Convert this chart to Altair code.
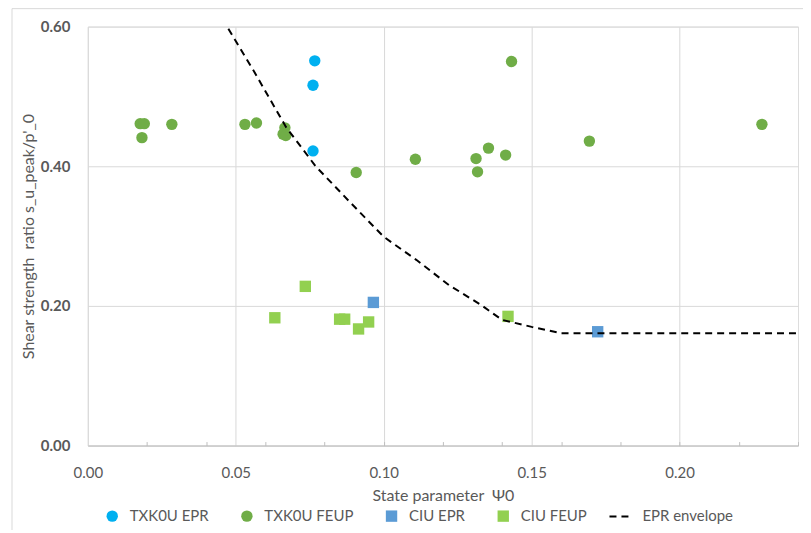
import altair as alt
import pandas as pd

# ---- data ----
txk_epr_x = [0.0767, 0.0761, 0.0761]
txk_epr_y = [0.551, 0.516, 0.422]

txk_feup_x = [0.0177, 0.0191, 0.0183, 0.0284, 0.0531, 0.0570, 0.0666, 0.0660, 0.0669,
              0.0907, 0.1107, 0.1312, 0.1317, 0.1354, 0.1412, 0.1432, 0.1695, 0.2278]
txk_feup_y = [0.461, 0.461, 0.441, 0.460, 0.460, 0.462, 0.455, 0.446, 0.444,
              0.391, 0.410, 0.411, 0.392, 0.426, 0.416, 0.550, 0.436, 0.460]

ciu_epr_x = [0.0965, 0.1723]
ciu_epr_y = [0.205, 0.163]

ciu_feup_x = [0.0632, 0.0735, 0.0851, 0.0868, 0.0915, 0.0949, 0.1420]
ciu_feup_y = [0.183, 0.228, 0.181, 0.181, 0.167, 0.177, 0.185]

env_x = [0.0475, 0.056, 0.067, 0.077, 0.0885, 0.100, 0.111, 0.122, 0.133, 0.140, 0.150, 0.160, 0.240]
env_y = [0.597, 0.537, 0.456, 0.400, 0.349, 0.299, 0.266, 0.230, 0.201, 0.180, 0.170, 0.161, 0.161]

series_names = ["TXK0U EPR", "TXK0U FEUP", "CIU EPR", "CIU FEUP"]
series_colors = ["#00B0F0", "#70AD47", "#5B9BD5", "#92D050"]
series_shapes = ["circle", "circle", "square", "square"]
series_sizes = [130, 130, 105, 105]

x_ticks = [0.00, 0.05, 0.10, 0.15, 0.20]
x_minor = [0.02, 0.04, 0.06, 0.08, 0.10, 0.12, 0.14, 0.16, 0.18, 0.20, 0.22, 0.24]
y_ticks = [0.0, 0.2, 0.4, 0.6]

rows = []
for name, xs, ys in zip(series_names,
                        [txk_epr_x, txk_feup_x, ciu_epr_x, ciu_feup_x],
                        [txk_epr_y, txk_feup_y, ciu_epr_y, ciu_feup_y]):
    for a, b in zip(xs, ys):
        rows.append({"psi": a, "ratio": b, "series": name})
pts = pd.DataFrame(rows)
env = pd.DataFrame({"psi": env_x, "ratio": env_y, "name": "EPR envelope"})

FONT = "Lato"
GRAY = "#595959"
Y_TITLE = "Shear strength\u00a0 ratio s_u_peak/p'_0"
X_TITLE = "State parameter\u00a0 Ψ0"

xscale = alt.Scale(domain=[0, 0.24], nice=False, zero=False)
yscale = alt.Scale(domain=[0, 0.6], nice=False)

y_axis = alt.Axis(values=y_ticks, format=".2f", title=Y_TITLE,
                  grid=True, gridColor="#d9d9d9", tickSize=0, domain=False,
                  labelPadding=18, titlePadding=4, labelFontSize=15,
                  labelColor=GRAY, labelFontWeight="bold", titleFontSize=16,
                  titleColor=GRAY, titleFontWeight="normal", labelFont=FONT,
                  titleFont=FONT)

# chart-area frame edges (decoration, like the spreadsheet chart border)
frame_src = pd.DataFrame({"k": [0]})
frame_top = alt.Chart(frame_src).mark_rule(stroke="#d9d9d9", strokeWidth=1).encode(
    x=alt.value(-76), x2=alt.value(760), y=alt.value(-18))
frame_left = alt.Chart(frame_src).mark_rule(stroke="#d9d9d9", strokeWidth=1).encode(
    x=alt.value(-76), y=alt.value(-18), y2=alt.value(560))

points = alt.Chart(pts).mark_point(filled=True, opacity=1).encode(
    x=alt.X("psi:Q", scale=xscale,
            axis=alt.Axis(values=x_ticks, format=".2f", title=X_TITLE,
                          grid=True, gridColor="#d9d9d9", tickSize=0, labelFlush=False,
                          domainColor="#bfbfbf", labelPadding=20, titlePadding=7,
                          labelFontSize=15, labelColor=GRAY, titleFontSize=16,
                          titleColor=GRAY, titleFontWeight="normal", labelFont=FONT,
                          titleFont=FONT)),
    y=alt.Y("ratio:Q", scale=yscale, axis=y_axis),
    color=alt.Color("series:N",
                    scale=alt.Scale(domain=series_names, range=series_colors),
                    legend=alt.Legend(title=None, orient="none", direction="horizontal",
                                      legendX=17, legendY=483, columnPadding=30,
                                      labelFontSize=15, labelColor=GRAY, labelFont=FONT,
                                      symbolSize=80, labelOffset=10)),
    shape=alt.Shape("series:N",
                    scale=alt.Scale(domain=series_names, range=series_shapes)),
    size=alt.Size("series:N", scale=alt.Scale(domain=series_names, range=series_sizes),
                  legend=None),
)

line = alt.Chart(env).mark_line(color="black", strokeWidth=2).encode(
    x=alt.X("psi:Q", scale=xscale,
            axis=alt.Axis(values=x_minor, orient="bottom", labels=False, domain=False,
                          grid=False, tickSize=4, offset=-4, tickColor="#bfbfbf",
                          title=None)),
    y=alt.Y("ratio:Q", scale=yscale, axis=y_axis),
    strokeDash=alt.StrokeDash("name:N",
                              scale=alt.Scale(domain=["EPR envelope"], range=[[7, 5]]),
                              legend=alt.Legend(title=None, orient="none",
                                                legendX=522, legendY=480,
                                                symbolType="stroke", symbolStrokeColor="black",
                                                symbolStrokeWidth=2, symbolSize=400,
                                                labelFontSize=15, labelColor=GRAY,
                                                labelFont=FONT, labelOffset=12)),
)

chart = alt.layer(frame_top, frame_left, points, line).resolve_axis(x="independent").properties(
    width=712, height=420,
    padding={"left": 80, "top": 18, "right": 5, "bottom": 84},
    autosize=alt.AutoSizeParams(type="none"),
).configure_view(stroke=None).configure(font=FONT)

chart.save("out.html", embed_options={"renderer": "svg", "actions": False})
